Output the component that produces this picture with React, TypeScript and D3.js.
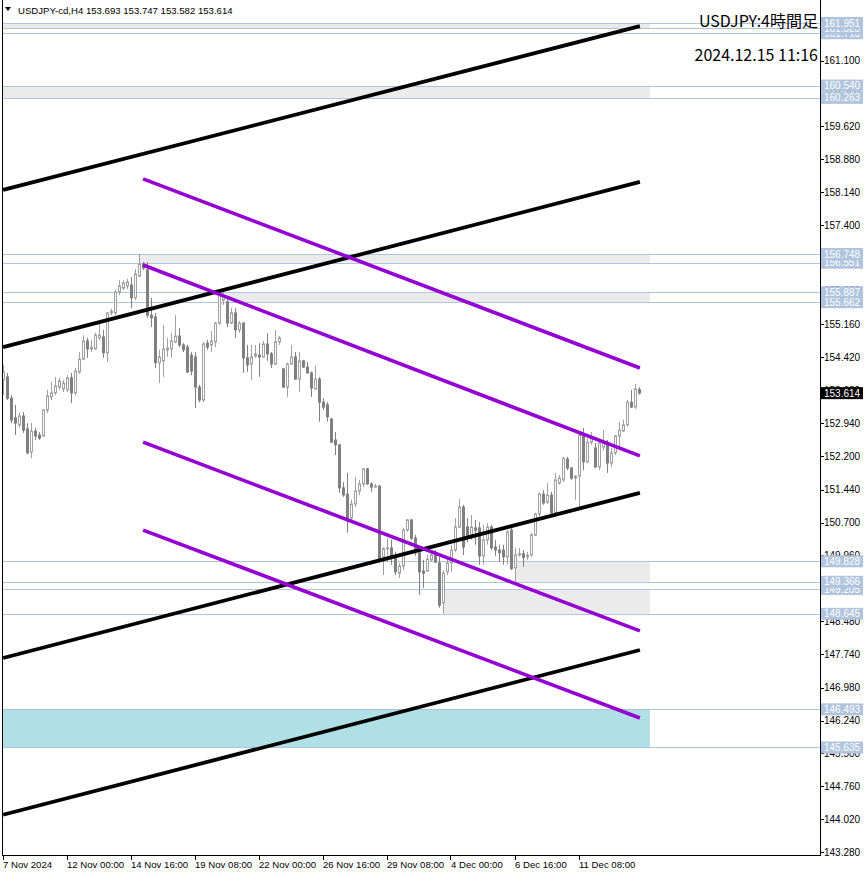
import React from 'react';
import * as d3 from 'd3';

// ---- candle data (H4 bars, 7 Nov 2024 08:00 -> 13 Dec 2024 20:00) ----
const OPENS = [153.91,153.98,153.50,153.06,152.90,153.10,152.81,152.29,152.76,152.67,
152.65,153.23,153.53,153.62,153.75,153.71,153.69,153.96,153.62,154.09,
154.38,154.79,154.61,154.61,154.86,154.88,154.52,155.42,155.42,155.89,
155.98,156.03,156.05,155.76,156.25,156.52,156.39,155.37,155.33,154.30,
154.34,154.59,154.61,154.77,154.90,154.70,154.65,154.47,154.43,153.75,
153.46,154.74,154.70,154.77,155.19,155.71,155.67,155.19,155.42,155.04,
155.19,154.41,154.27,154.45,154.47,154.43,154.72,154.50,154.27,154.77,
154.16,153.75,154.27,154.43,153.93,154.34,154.20,154.07,153.71,153.93,
153.41,153.35,153.03,152.56,152.45,151.48,151.34,150.80,151.12,151.41,
151.57,151.91,151.57,151.50,151.52,149.93,150.11,150.13,149.93,149.56,
149.72,150.53,150.76,150.35,150.02,149.61,149.61,149.86,150.02,149.79,
148.89,149.59,149.79,150.08,150.60,151.05,150.60,150.42,150.58,150.58,
149.95,150.31,150.60,150.15,150.08,150.08,149.93,150.53,149.68,149.97,
150.00,149.93,149.97,150.42,150.89,151.34,151.16,151.32,150.92,151.59,
151.66,152.13,151.93,151.70,151.75,152.67,152.07,152.51,152.38,151.95,
152.40,152.45,152.04,152.27,152.65,152.76,152.90,153.41,153.30,153.693];

const HIGHS = [154.25,154.07,153.57,153.35,153.17,153.19,152.94,152.94,152.83,152.74,
153.26,153.69,153.87,153.98,153.96,153.91,154.02,154.07,154.18,154.54,
154.92,154.86,154.81,154.97,155.19,155.04,155.44,155.51,155.94,156.16,
156.16,156.19,156.23,156.41,156.75,156.57,156.57,155.76,155.42,154.59,
155.15,154.86,154.97,155.37,155.08,154.74,154.70,154.54,154.54,153.80,
154.77,154.81,155.01,155.22,155.87,155.89,155.78,155.53,155.53,155.24,
155.22,154.70,154.70,154.70,154.74,154.79,154.97,154.54,155.04,154.90,
154.18,154.30,154.70,154.54,154.54,154.36,154.32,154.10,154.23,153.98,
153.50,153.41,153.06,152.74,152.47,151.61,151.82,151.21,151.73,151.66,
151.93,151.93,151.61,151.57,151.55,150.15,150.35,150.31,150.04,149.79,
150.58,150.78,150.78,150.42,150.13,149.86,149.97,150.08,150.08,149.93,
149.63,149.93,150.20,150.80,151.23,151.10,150.80,150.87,150.76,150.71,
150.65,150.69,150.65,150.31,150.20,150.20,150.53,150.58,150.13,150.13,
150.08,150.04,150.46,150.92,151.37,151.43,151.59,151.39,151.82,151.77,
152.18,152.18,151.95,151.77,152.72,152.83,152.60,152.74,152.49,152.56,
152.78,152.56,152.38,152.67,152.97,153.01,153.46,153.69,153.82,153.747];

const LOWS = [153.57,153.46,152.94,152.67,152.85,152.72,152.24,152.15,152.56,152.56,
152.63,153.17,153.46,153.57,153.69,153.64,153.64,153.39,153.57,154.05,
154.36,154.41,154.54,154.59,154.81,154.41,154.32,155.37,155.37,155.82,
155.94,155.96,155.53,155.71,156.23,156.39,155.31,155.10,154.18,153.84,
153.98,154.43,154.41,154.74,154.65,154.54,154.07,154.02,153.28,153.41,
153.41,154.59,154.54,154.65,155.15,155.60,155.10,155.17,154.86,154.97,
154.07,154.09,153.91,154.41,153.98,154.41,154.34,154.18,154.25,154.70,
153.73,153.53,154.25,153.91,153.64,154.18,154.05,153.53,153.69,152.97,
153.23,152.97,152.49,152.22,151.37,151.28,150.47,150.76,151.05,151.32,
151.50,151.55,151.39,151.48,149.79,149.52,149.81,149.75,149.52,149.45,
149.63,150.49,150.31,149.95,149.07,149.23,149.59,149.81,149.79,148.78,
148.645,149.52,149.59,150.04,150.58,149.97,150.26,150.31,150.20,149.75,
149.75,150.20,150.08,149.95,149.81,149.75,149.75,149.63,149.366,149.93,
149.70,149.86,149.93,150.40,150.83,151.10,151.12,150.85,150.89,151.55,
151.61,151.88,151.66,151.21,151.05,151.88,152.04,152.45,151.93,151.88,
152.33,151.82,151.95,152.22,152.40,152.74,152.85,153.28,153.26,153.582];

const CLOSES = [154.09,153.50,153.01,152.94,153.10,152.78,152.27,152.76,152.65,152.60,
153.23,153.55,153.62,153.78,153.89,153.84,153.96,153.62,154.11,154.38,
154.79,154.61,154.65,154.92,154.92,154.52,155.42,155.46,155.89,156.03,
156.10,156.12,155.76,156.30,156.52,156.43,155.37,155.31,154.30,154.43,
154.61,154.63,154.79,154.90,154.70,154.59,154.09,154.11,153.75,153.46,
154.72,154.65,154.79,155.19,155.82,155.80,155.19,155.42,155.04,155.19,
154.41,154.25,154.43,154.50,154.43,154.72,154.50,154.27,154.77,154.86,
153.75,154.27,154.43,153.93,154.34,154.20,154.07,153.73,153.93,153.41,
153.30,153.08,152.51,152.45,151.48,151.32,150.80,151.12,151.41,151.57,
151.91,151.57,151.50,151.52,149.86,150.11,150.13,149.95,149.59,149.72,
150.53,150.76,150.35,150.02,149.59,149.56,149.88,149.97,149.81,148.84,
149.56,149.79,150.08,150.60,151.05,150.15,150.35,150.60,150.53,149.95,
150.31,150.60,150.13,150.08,150.02,149.93,150.49,149.66,149.97,150.00,
149.91,149.97,150.42,150.89,151.34,151.14,151.32,150.92,151.66,151.70,
152.15,151.93,151.70,151.75,152.67,152.07,152.51,152.60,151.95,152.49,
152.49,152.04,152.27,152.65,152.78,152.90,153.41,153.30,153.71,153.614];

// ---- axes ----
const Y_TICKS = [161.100,160.360,159.620,158.880,158.140,157.400,156.660,155.920,155.160,154.420,
153.680,152.940,152.200,151.440,150.700,149.960,149.220,148.480,147.740,146.980,146.240,145.500,
144.760,144.020,143.280];
const X_LABELS = ['7 Nov 2024','12 Nov 00:00','14 Nov 16:00','19 Nov 08:00','22 Nov 00:00',
'26 Nov 16:00','29 Nov 08:00','4 Dec 00:00','6 Dec 16:00','11 Dec 08:00'];
const X_LABEL_BARS = [0,16,32,48,64,80,96,112,128,144];

// ---- horizontal levels ----
const LEVELS = [161.951,161.828,161.718,160.540,160.263,156.748,156.551,155.887,155.662,
149.828,149.366,149.205,148.645,146.493,145.635];

// ---- zones: high, low, start bar, fill kind ----
const ZONE_HIGH = [161.951,160.540,156.748,155.887,149.828,149.205,146.493];
const ZONE_LOW = [161.828,160.263,156.551,155.662,149.366,148.645,145.635];
const ZONE_FROM = [-1,-1,34.1,56.1,128.1,109.9,-1];
const ZONE_KIND = ['gray','gray','gray','gray','gray','gray','blue'];
const ZONE_TO = 161.6;

// ---- trend lines: [bar0, price0, bar1, price1] ----
const BLACK_LINES = [
  [-0.1,158.19,159.1,161.88],
  [-0.1,154.65,159.1,158.37],
  [-0.1,147.65,159.1,151.37],
  [-0.1,144.12,159.1,147.83],
];
const PURPLE_LINES = [
  [34.9,158.44,159.1,154.18],
  [34.9,156.50,159.1,152.20],
  [34.9,152.51,159.1,148.26],
  [34.9,150.53,159.1,146.30],
];

const LAST_PRICE = 153.614;

const W = 866, H = 876;
const PL = 2, PR = 820, PT = 0, PB = 855;

export default function App() {
  const x = d3.scaleLinear().domain([0, 159]).range([3.5, 639.5]);
  const y = d3.scaleLinear().domain([143.214, 162.467]).range([PB, PT]);
  const fmt = d3.format('.3f');
  const axisFont = 'Liberation Sans, Arial, sans-serif';
  const labelOrder = [...LEVELS].sort((a, b) => a - b);

  return (
    <svg width={W} height={H} style={{ position: 'absolute', left: 0, top: 0, background: '#fff' }}>
      <rect x={0} y={0} width={W} height={H} fill="#fff" />
      {/* zones */}
      {ZONE_HIGH.map((hi, k) => (
        <rect key={'z' + k}
          x={Math.max(PL, x(ZONE_FROM[k]))}
          y={y(hi)}
          width={x(ZONE_TO) - Math.max(PL, x(ZONE_FROM[k]))}
          height={y(ZONE_LOW[k]) - y(hi)}
          fill={ZONE_KIND[k] === 'blue' ? '#b0e0e6' : '#ebebeb'} />
      ))}
      {/* level lines */}
      {LEVELS.map((p, k) => (
        <line key={'l' + k} x1={PL} x2={PR} y1={Math.round(y(p)) + 0.5} y2={Math.round(y(p)) + 0.5}
          stroke="#b0c4de" strokeWidth={1} />
      ))}
      {/* candles */}
      {OPENS.map((o, i) => {
        const c = CLOSES[i];
        const cx = x(i);
        const bull = c >= o;
        const top = y(Math.max(o, c));
        const bot = y(Math.min(o, c));
        const col = bull ? '#a0a0a0' : '#808080';
        return (
          <g key={'c' + i}>
            <line x1={cx} x2={cx} y1={y(HIGHS[i])} y2={y(LOWS[i])} stroke={col} strokeWidth={1} />
            {bull ? (
              <rect x={cx - 1} y={top} width={2} height={Math.max(bot - top, 0.5)} fill="#fff" stroke={col} strokeWidth={1} />
            ) : (
              <rect x={cx - 1.5} y={top - 0.5} width={3} height={Math.max(bot - top, 0) + 1} fill={col} />
            )}
          </g>
        );
      })}
      {/* trend lines */}
      {BLACK_LINES.map((t, k) => (
        <line key={'b' + k} x1={Math.max(PL, x(t[0]))} y1={y(t[1])} x2={x(t[2])} y2={y(t[3])}
          stroke="#000" strokeWidth={3.8} />
      ))}
      {PURPLE_LINES.map((t, k) => (
        <line key={'p' + k} x1={x(t[0])} y1={y(t[1])} x2={x(t[2])} y2={y(t[3])}
          stroke="#9400d3" strokeWidth={3.6} />
      ))}
      {/* frame */}
      <line x1={PL + 0.5} x2={PL + 0.5} y1={PT} y2={PB} stroke="#000" />
      <line x1={PL} x2={PR} y1={PB + 0.5} y2={PB + 0.5} stroke="#000" />
      <line x1={PR + 0.5} x2={PR + 0.5} y1={PT} y2={PB + 1} stroke="#000" />
      {/* y axis */}
      {Y_TICKS.map((t, k) => (
        <g key={'yt' + k}>
          <line x1={PR} x2={PR + 4} y1={Math.round(y(t)) + 0.5} y2={Math.round(y(t)) + 0.5} stroke="#000" />
          <text x={824} y={y(t) + 3.6} fontSize={10} fontFamily={axisFont} fill="#000">{fmt(t)}</text>
        </g>
      ))}
      {labelOrder.map((p, k) => (
        <g key={'lb' + k}>
          <rect x={821} y={y(p) - 6} width={42} height={12} fill="#b0c4de" />
          <text x={824} y={y(p) + 3.6} fontSize={10} fontFamily={axisFont} fill="#fff">{fmt(p)}</text>
        </g>
      ))}
      <rect x={821} y={y(LAST_PRICE) - 6} width={42} height={12} fill="#000" />
      <text x={824} y={y(LAST_PRICE) + 3.6} fontSize={10} fontFamily={axisFont} fill="#fff">{fmt(LAST_PRICE)}</text>
      {/* x axis */}
      {X_LABEL_BARS.map((b, k) => (
        <g key={'xt' + k}>
          <line x1={Math.round(x(b)) - 0.5} x2={Math.round(x(b)) - 0.5} y1={PB} y2={PB + 5} stroke="#000" />
          <text x={x(b) - 0.5} y={868} fontSize={9.6} fontFamily={axisFont} fill="#000">{X_LABELS[k]}</text>
        </g>
      ))}
      {/* header */}
      <path d="M5,7 L11,7 L8,11 Z" fill="#000" />
      <text x={18} y={14} fontSize={9.6} fontFamily={axisFont} fill="#000">USDJPY-cd,H4  153.693 153.747 153.582 153.614</text>
      <text x={818} y={27} fontSize={16} textAnchor="end" fontFamily="Noto Sans CJK JP, sans-serif" fill="#000">USDJPY:4時間足</text>
      <text x={818} y={61} fontSize={16} textAnchor="end" fontFamily="Noto Sans CJK JP, sans-serif" fill="#000">2024.12.15 11:16</text>
    </svg>
  );
}
